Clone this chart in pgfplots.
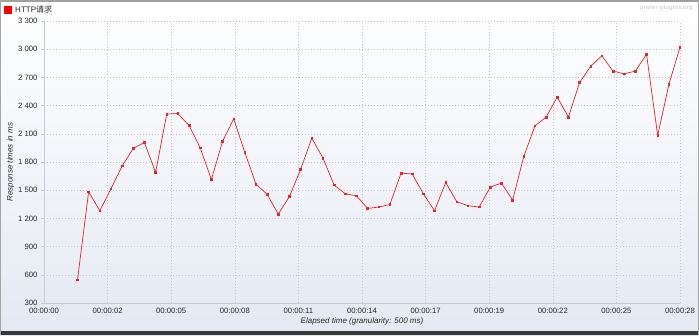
\documentclass[border=0pt]{standalone}
\usepackage{pgfplots}
\pgfplotsset{compat=1.18}
\usepackage{fontspec}
\setmainfont{Liberation Sans}
\newfontfamily\cjk{Noto Sans CJK SC}
\definecolor{linered}{HTML}{E8242C}
\definecolor{gridgray}{HTML}{C4C8D0}
\definecolor{axisgray}{HTML}{C6CCD8}
\definecolor{bgbottom}{HTML}{E3E8F2}
\definecolor{txtgray}{HTML}{2A2A2A}
\begin{document}
\begin{tikzpicture}
\useasboundingbox (0,0) rectangle (699pt,335pt);
\shade[top color=white, bottom color=bgbottom, middle color=white!55!bgbottom] (0,0) rectangle (699pt,335pt);
\fill[gray!75] (0,333pt) rectangle (699pt,335pt);
\fill[black!78] (0,0) rectangle (699pt,4pt);
\fill[gray!70] (0,0) rectangle (1pt,335pt);
\fill[gray!70] (698pt,0) rectangle (699pt,335pt);
\node[anchor=east, text=black!16, font=\fontsize{6}{7}\selectfont\bfseries, inner sep=0pt] at (693pt,327pt) {jmeter-plugins.org};
\begin{axis}[
  scale only axis,
  width=636pt, height=282pt,
  at={(44pt,32pt)}, anchor=south west,
  xmin=0, xmax=28.5, ymin=300, ymax=3300,
  axis lines*=left,
  axis line style={axisgray, line width=0.8pt},
  xtick={0,2.85,5.7,8.55,11.4,14.25,17.1,19.95,22.8,25.65,28.5},
  xticklabels={00:00:00,00:00:02,00:00:05,00:00:08,00:00:11,00:00:14,00:00:17,00:00:19,00:00:22,00:00:25,00:00:28},
  ytick={300,600,900,1200,1500,1800,2100,2400,2700,3000,3300},
  yticklabels={300,600,900,1 200,1 500,1 800,2 100,2 400,2 700,3 000,3 300},
  tick style={draw=none},
  ytick style={draw=axisgray, line width=0.5pt},
  major tick length=3pt,
  tick align=outside,
  ticklabel style={font=\fontsize{7.7}{9}\selectfont, text=txtgray},
  xticklabel style={yshift=1pt},
  grid=major,
  major grid style={gridgray, line width=0.5pt, dash pattern=on 1pt off 2pt},
  xlabel={\itshape Elapsed time (granularity: 500 ms)},
  ylabel={\itshape Response times in ms},
  xlabel style={font=\fontsize{8}{9}\selectfont, text=txtgray, yshift=3pt},
  ylabel style={font=\fontsize{8}{9}\selectfont, text=txtgray, yshift=-3pt},
  clip=false,
  legend style={draw=none, fill=none, at={(-0.0629,1.039)}, anchor=west, inner sep=0pt, font=\fontsize{8}{9}\selectfont, text=txtgray},
  legend cell align=left,
  legend image code/.code={\fill[red] (0pt,-3.5pt) rectangle (7pt,3.5pt);},
  legend style={/tikz/every even column/.append style={column sep=0pt}},
]
\addplot[linered, line width=0.7pt, mark=square*, mark size=0.8pt, mark options={solid, fill=linered}] coordinates {
(1.5,545) (2.0,1483) (2.5,1281) (3.0,1515) (3.5,1757) (4.0,1944) (4.5,2008) (5.0,1689)
(5.5,2310) (6.0,2316) (6.5,2188) (7.0,1951) (7.5,1614) (8.0,2018) (8.5,2260) (9.0,1901)
(9.5,1565) (10.0,1455) (10.5,1246) (11.0,1434) (11.5,1721) (12.0,2054) (12.5,1842) (13.0,1555)
(13.5,1462) (14.0,1441) (14.5,1306) (15.0,1321) (15.5,1348) (16.0,1682) (16.5,1672) (17.0,1462)
(17.5,1281) (18.0,1582) (18.5,1377) (19.0,1335) (19.5,1321) (20.0,1533) (20.5,1576) (21.0,1395)
(21.5,1859) (22.0,2185) (22.5,2278) (23.0,2490) (23.5,2278) (24.0,2646) (24.5,2820) (25.0,2929)
(25.5,2767) (26.0,2738) (26.5,2767) (27.0,2947) (27.5,2082) (28.0,2624) (28.5,3022)
};
\addlegendentry{\,HTTP{\cjk 请求}}
\end{axis}
\end{tikzpicture}
\end{document}
